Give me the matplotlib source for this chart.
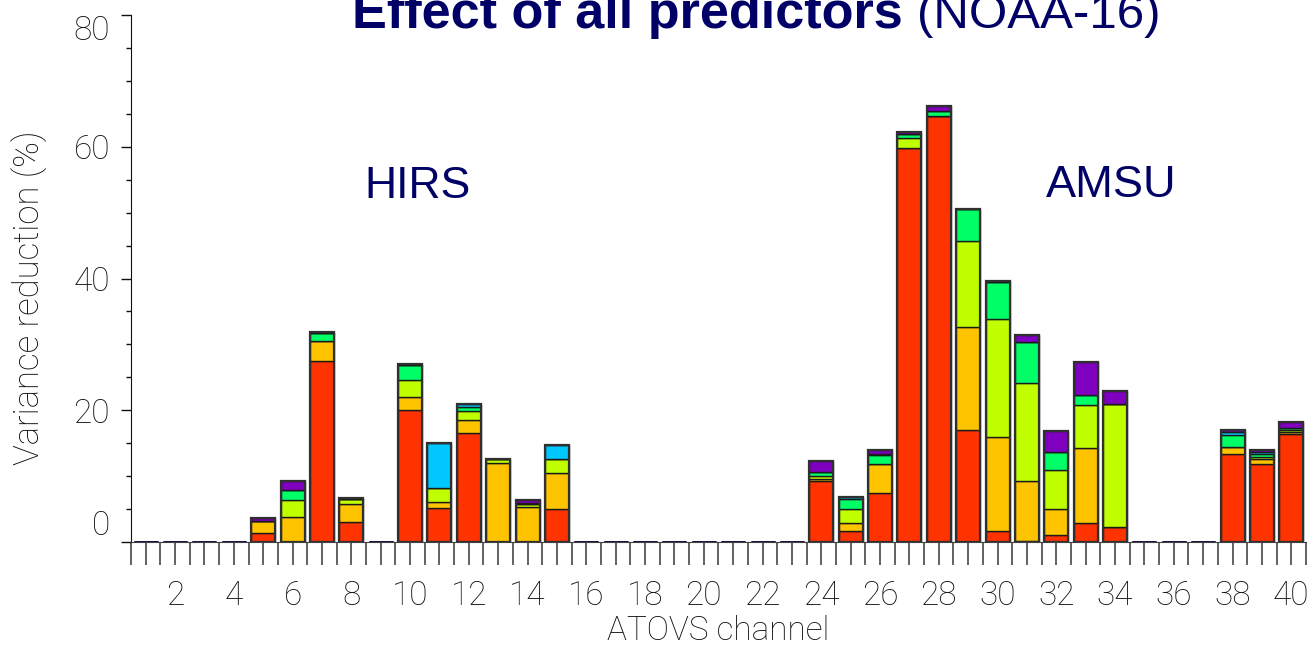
import matplotlib
matplotlib.use('Agg')
import matplotlib.pyplot as plt
import numpy as np

# Channels and the six stacked components (variance reduction in %)
canais = list(range(1, 41))
vermelho = [0, 0, 0, 0, 1.4, 0, 27.5, 3.1, 0, 20.1,
            5.2, 16.5, 0, 0, 5.0, 0, 0, 0, 0, 0,
            0, 0, 0, 9.3, 1.6, 7.4, 59.85, 64.7, 17.0, 1.7,
            0.2, 1.05, 2.9, 2.3, 0, 0, 0, 13.4, 11.85, 16.45]
laranja = [0, 0, 0, 0, 1.8, 3.75, 3.0, 2.6, 0, 1.9,
           0.8, 2.0, 12.0, 5.3, 5.45, 0, 0, 0, 0, 0,
           0, 0, 0, 0.3, 1.25, 4.5, 0, 0, 15.7, 14.2,
           9.0, 3.9, 11.3, 0, 0, 0, 0, 1.0, 0.8, 0.25]
amarelo_verde = [0, 0, 0, 0, 0, 2.7, 0, 0.8, 0, 2.6,
                 2.2, 1.4, 0.6, 0.4, 2.1, 0, 0, 0, 0, 0,
                 0, 0, 0, 0.4, 2.2, 0, 1.45, 0, 13.0, 17.9,
                 14.9, 6.0, 6.65, 18.6, 0, 0, 0, 0, 0.3, 0.3]
verde = [0, 0, 0, 0, 0, 1.5, 1.3, 0, 0, 2.3,
         0, 0.6, 0, 0, 0, 0, 0, 0, 0, 0,
         0, 0, 0, 0.6, 1.5, 1.3, 0.6, 0.7, 4.8, 5.6,
         6.2, 2.7, 1.45, 0.1, 0, 0, 0, 1.8, 0.45, 0.3]
ciano = [0, 0, 0, 0, 0, 0, 0, 0, 0, 0,
         6.9, 0.5, 0, 0.15, 2.25, 0, 0, 0, 0, 0,
         0, 0, 0, 0, 0.3, 0.2, 0, 0, 0, 0,
         0, 0, 0, 0, 0, 0, 0, 0.5, 0.25, 0]
roxo = [0, 0, 0, 0, 0.5, 1.3, 0.15, 0.15, 0, 0.15,
        0, 0, 0, 0.5, 0, 0, 0, 0, 0, 0,
        0, 0, 0, 1.7, 0, 0.6, 0.3, 0.8, 0.1, 0.25,
        1.05, 3.25, 5.0, 1.9, 0, 0, 0, 0.3, 0.35, 0.86]

componentes = [vermelho, laranja, amarelo_verde, verde, ciano, roxo]
cores = ['#FF3300', '#FFC400', '#BFFF00', '#00FF66', '#00C8FF', '#8000C0']

azul_escuro = '#000066'
fonte_fina = ['Roboto', 'DejaVu Sans']
fonte_titulo = ['Liberation Sans', 'DejaVu Sans']


def plotar():
    fig = plt.figure(figsize=(13.14, 6.52), dpi=100)
    ax = fig.add_axes([0.0997, 0.1687, 0.8942, 0.8083])

    x = np.array(canais)
    largura = 0.82
    base = np.zeros(len(canais))
    for valores, cor in zip(componentes, cores):
        v = np.array(valores)
        ax.bar(x, v, bottom=base, width=largura, color=cor,
               edgecolor='#1a1a1a', linewidth=1.0, zorder=3)
        base = base + v

    # outline of each full bar, and a dark line for empty channels
    cheios = base > 0
    ax.bar(x[cheios], base[cheios], width=largura, fill=False,
           edgecolor='#303030', linewidth=1.6, zorder=4)
    ax.bar(x[~cheios], base[~cheios], width=largura, fill=False,
           edgecolor='#1a0a48', linewidth=2.0, zorder=4)

    ax.set_xlim(0.5, 40.5)
    ax.set_ylim(0, 80)

    ax.spines['top'].set_visible(False)
    ax.spines['right'].set_visible(False)
    ax.spines['left'].set_color('#101010')
    ax.spines['bottom'].set_color('#404040')

    # y ticks
    ax.set_yticks([0, 20, 40, 60, 80])
    ax.set_yticks(np.arange(0, 81, 5), minor=True)
    ax.tick_params(axis='y', which='major', length=10 / 1.389, width=1.0,
                   pad=8, labelsize=24, color='#101010', labelcolor='#101010')
    ax.tick_params(axis='y', which='minor', length=5 / 1.389, width=1.0,
                   color='#101010')

    # x ticks: labels at even channels, ticks every half channel
    pares = [c for c in canais if c % 2 == 0]
    ax.set_xticks(pares)
    ax.set_xticklabels([str(c) for c in pares])
    meios = [t for t in np.arange(0.5, 40.51, 0.5) if t not in pares]
    ax.set_xticks(meios, minor=True)
    for qual in ['major', 'minor']:
        ax.tick_params(axis='x', which=qual, direction='out', length=23 / 1.389,
                       width=1.3, color='#555555')
    ax.tick_params(axis='x', which='major', pad=11, labelsize=24,
                   labelcolor='#101010')

    for rotulo in ax.get_xticklabels() + ax.get_yticklabels():
        rotulo.set_family(fonte_fina)
        rotulo.set_fontweight('light')
    rotulos_y = ax.get_yticklabels()
    rotulos_y[0].set_verticalalignment('bottom')
    rotulos_y[-1].set_verticalalignment('top')

    ax.set_xlabel('ATOVS channel', fontsize=24, family=fonte_fina,
                  fontweight='light', color='#101010', labelpad=2)
    ax.set_ylabel('Variance reduction (%)', fontsize=25, family=fonte_fina,
                  fontweight='light', color='#101010', va='center')
    ax.yaxis.set_label_coords(-0.086, 0.463)

    ax.text(10.26, 52.2, 'HIRS', fontsize=32, color=azul_escuro,
            family=fonte_titulo, ha='center', va='baseline')
    ax.text(33.87, 52.4, 'AMSU', fontsize=32.5, color=azul_escuro,
            family=fonte_titulo, ha='center', va='baseline')

    # title, cut at the top like the original
    t1 = fig.text(352 / 1314, 1 - 28 / 652, 'Effect of all predictors ',
                  fontsize=37.6, fontweight='bold', color=azul_escuro,
                  family=fonte_titulo, ha='left', va='baseline')
    fig.canvas.draw()
    caixa = t1.get_window_extent()
    fig.text(caixa.x1 / fig.bbox.width, 1 - 28 / 652, '(NOAA-16)',
             fontsize=35.5, color=azul_escuro,
             family=fonte_titulo, ha='left', va='baseline')

    fig.savefig('out.png', dpi=100)


if __name__ == "__main__":
    plotar()
